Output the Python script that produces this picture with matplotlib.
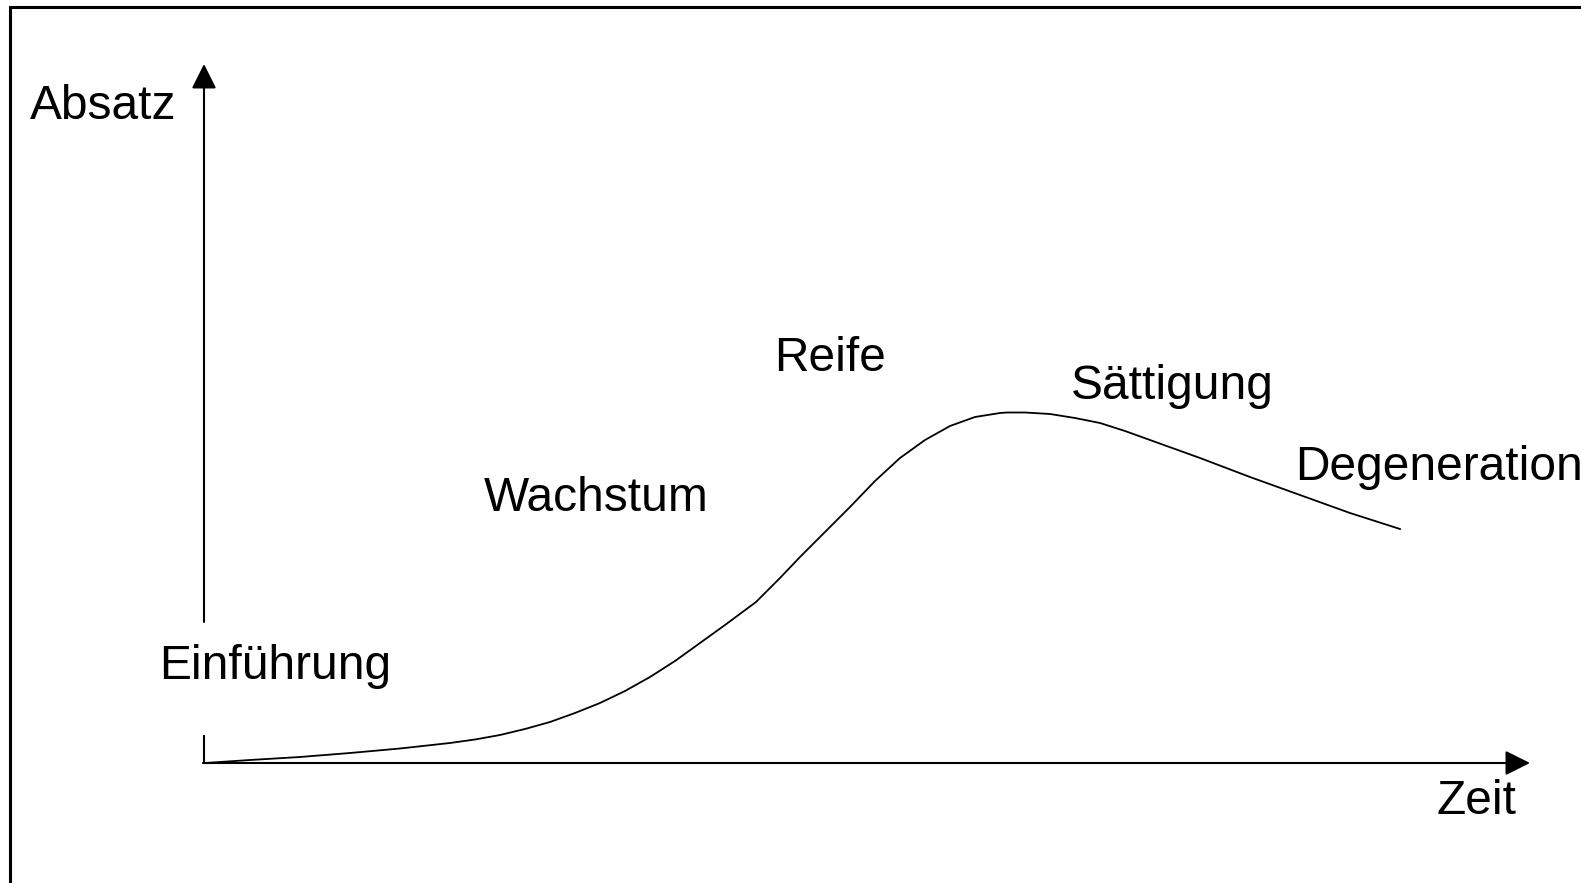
import matplotlib
matplotlib.use("Agg")
import matplotlib.pyplot as plt
from matplotlib.lines import Line2D

plt.rcParams['font.family'] = ['Liberation Sans', 'DejaVu Sans']

# Product life cycle curve (time, sales)
zeit = [1, 46, 96, 146, 196, 246, 271, 296, 321, 346, 371, 396, 421, 446, 471, 496, 521,
        552, 576, 596, 621, 646, 671, 696, 721, 746, 771, 796, 803, 821, 846,
        871, 896, 921, 946, 971, 996, 1021, 1046, 1071, 1096, 1121, 1146, 1171, 1196]
absatz = [0, 3, 6, 10, 14.5, 20, 23.5, 28, 34, 41, 50, 60, 72, 86, 102, 120, 138,
          161, 185, 206, 231, 256, 282, 305, 323, 337, 346, 350, 350.5, 350.5, 349,
          345, 340, 332, 323, 314, 305, 295.5, 286, 277, 268, 259, 250, 242, 234]

# Phase labels and positions (time, sales)
phasen = ["Einführung", "Wachstum", "Reife", "Sättigung", "Degeneration"]
phasen_x = [-45, 280, 570, 867, 1091]
phasen_y = [84, 252, 392, 364, 283]

achse_x_label = "Zeit"
achse_y_label = "Absatz"
x_max = 1326
y_max = 699

fig = plt.figure(figsize=(15.81, 8.83), dpi=100)
ax = fig.add_axes([0, 0, 1, 1])
ax.set_xlim(-204, 1377)
ax.set_ylim(-120, 763)
ax.axis('off')

# Frame (left and top)
fig.add_artist(Line2D([10 / 1581, 10 / 1581], [0, 1 - 7 / 883], color='black', lw=2.2,
                      transform=fig.transFigure))
fig.add_artist(Line2D([10 / 1581, 1], [1 - 7 / 883, 1 - 7 / 883], color='black', lw=2.2,
                      transform=fig.transFigure))

arrow = dict(arrowstyle='-|>,head_length=0.4,head_width=0.2', mutation_scale=38,
             color='black', lw=1.5, shrinkA=0, shrinkB=0)
# x axis
ax.annotate('', xy=(x_max, 0), xytext=(-1, 0), arrowprops=arrow)
# y axis (broken behind the "Einführung" label)
ax.plot([0, 0], [0, 28], color='black', lw=1.5, solid_capstyle='butt')
ax.annotate('', xy=(0, y_max), xytext=(0, 141), arrowprops=arrow)

# curve
ax.plot(zeit, absatz, color='black', lw=1.3, solid_joinstyle='round')

fs = 34.5
ax.text(-174, 644, achse_y_label, fontsize=fs, ha='left', va='baseline')
ax.text(1233, -51, achse_x_label, fontsize=fs, ha='left', va='baseline')
for t, x, y in zip(phasen, phasen_x, phasen_y):
    ax.text(x, y, t, fontsize=fs, ha='left', va='baseline')

fig.savefig('out.png', dpi=100, facecolor='white')
